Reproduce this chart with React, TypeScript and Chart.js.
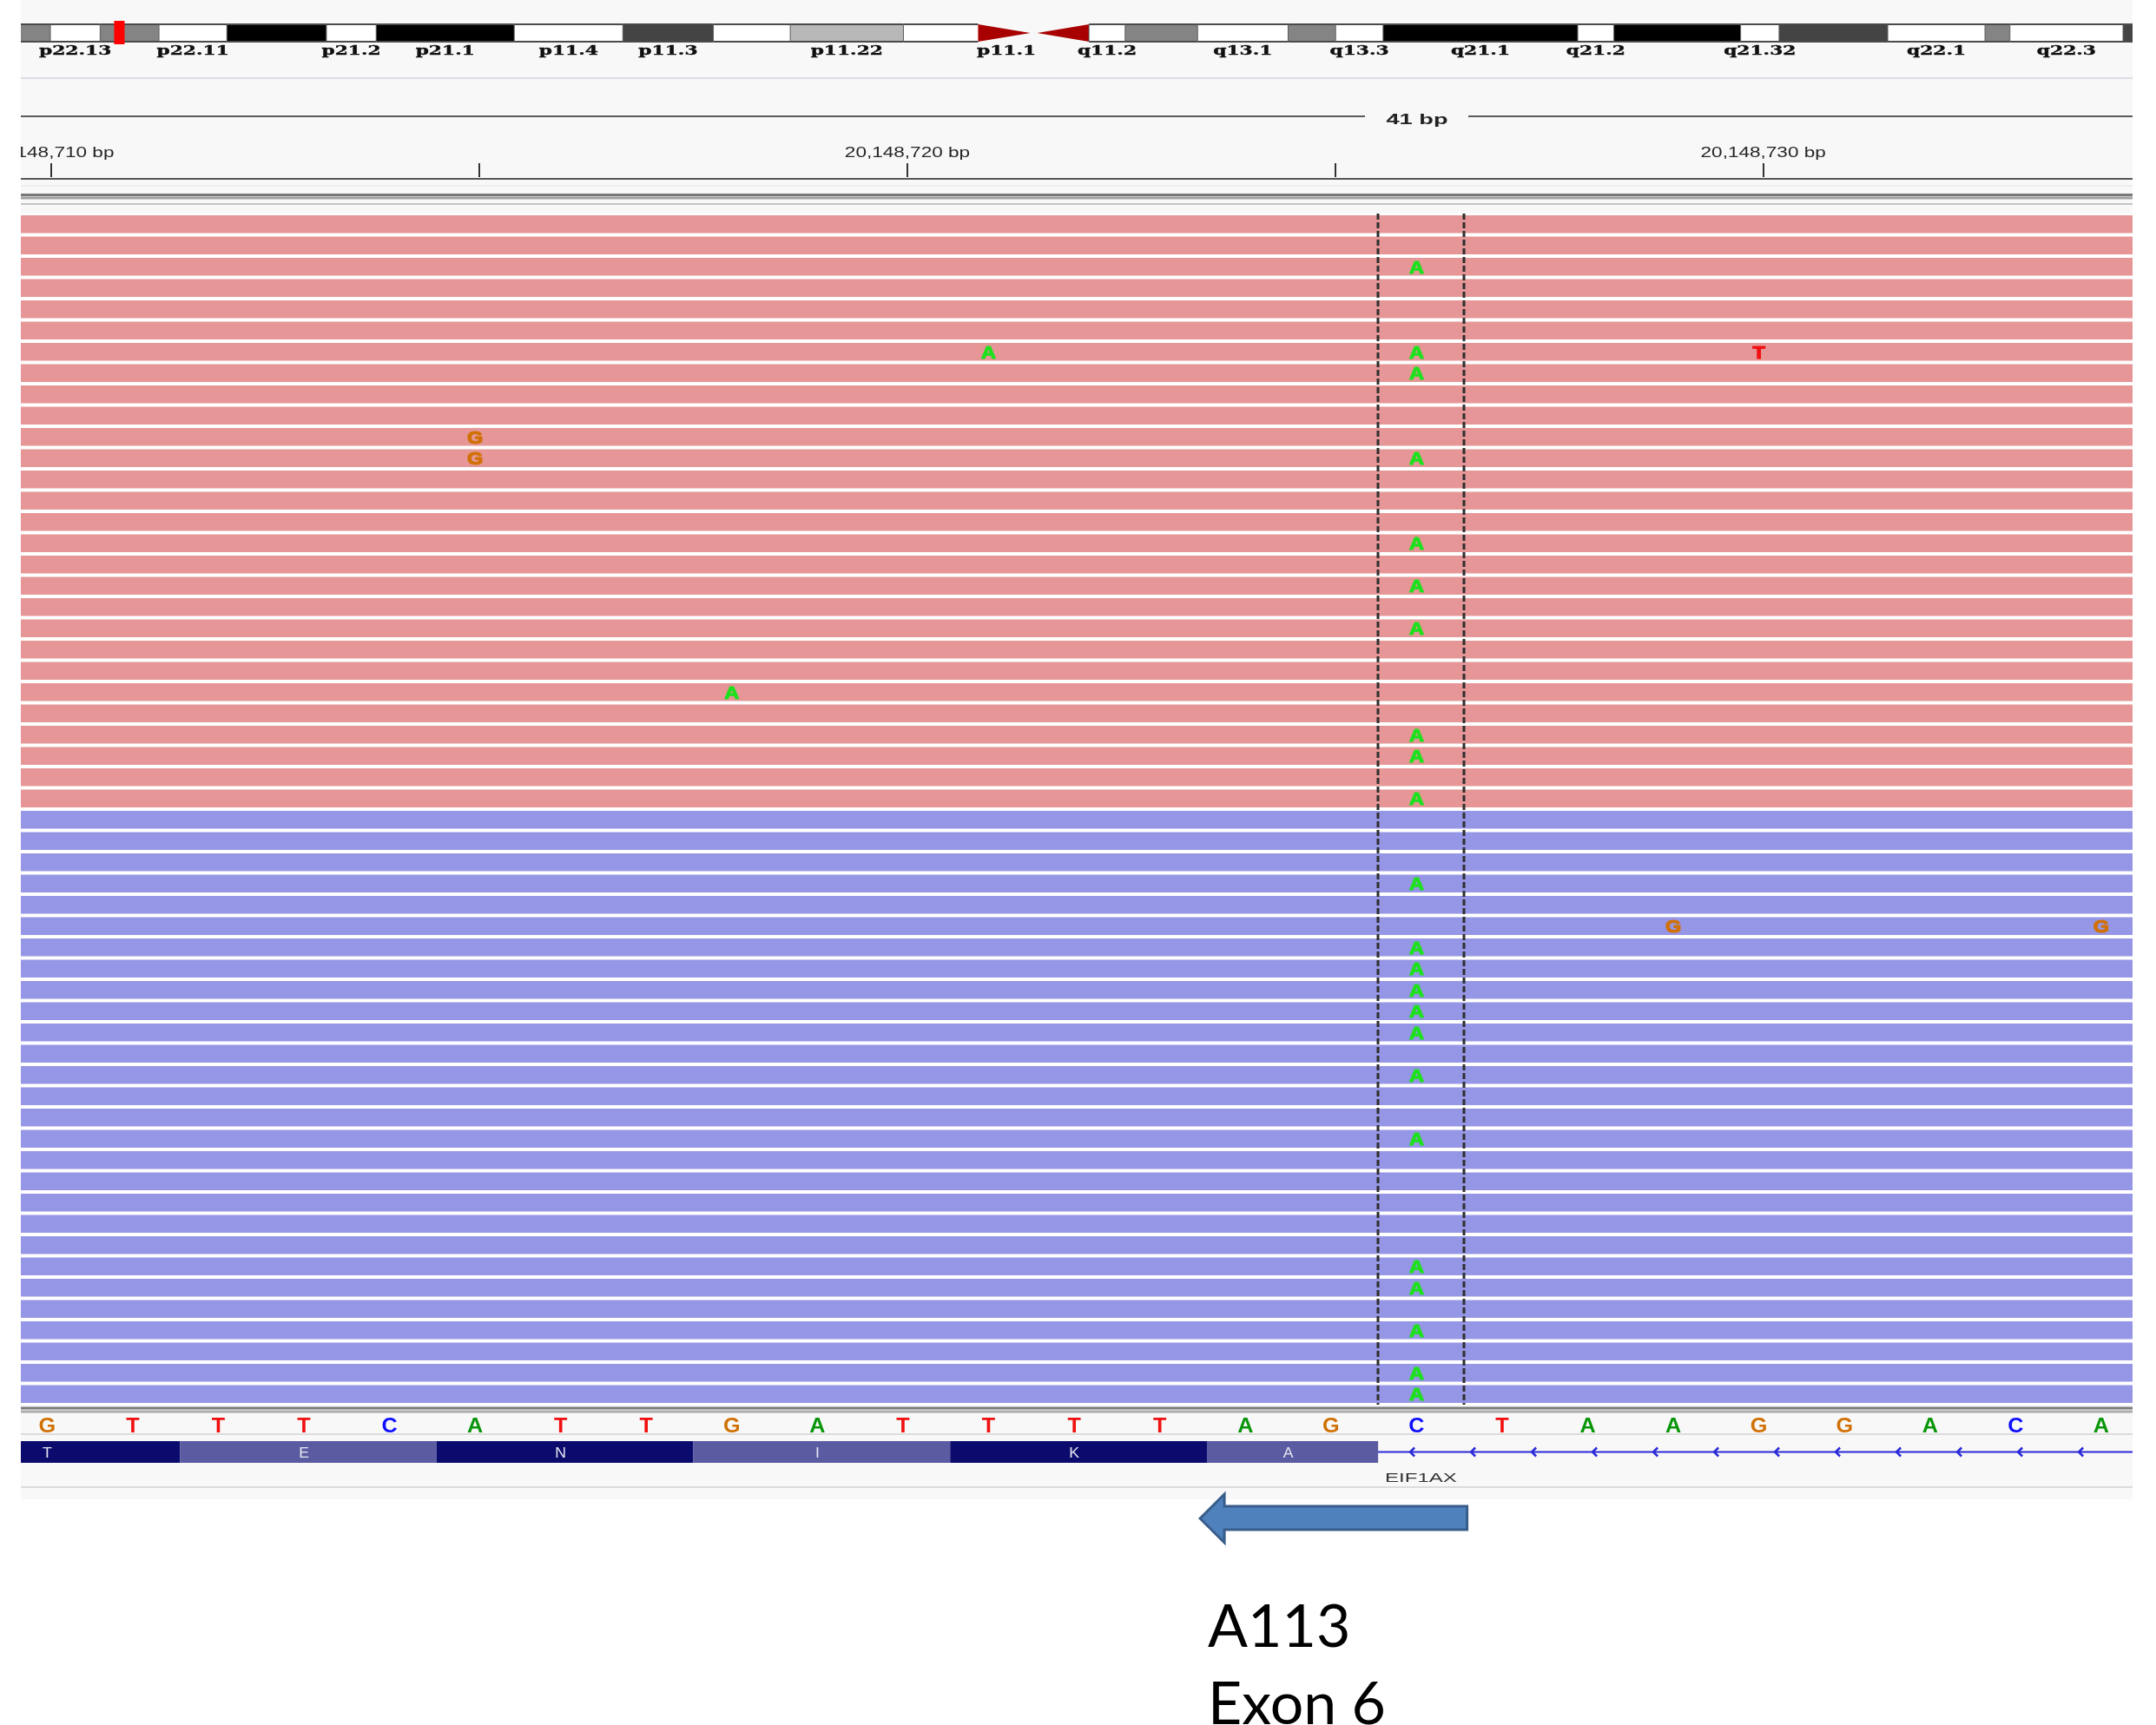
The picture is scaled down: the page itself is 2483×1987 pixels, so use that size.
import { useEffect, useRef } from "react";
import { Chart, registerables } from "chart.js";

Chart.register(...registerables);

// ---------------- data ----------------
const VIEW_START = 20148709.642;
const VIEW_END = 20148734.315;
const SEQ_START = 20148710;
const REF_SEQUENCE = ["G", "T", "T", "T", "C", "A", "T", "T", "G", "A", "T", "T", "T", "T", "A", "G", "C", "T", "A", "A", "G", "G", "A", "C", "A"];

const FORWARD_READ_COUNT = 28;
const REVERSE_READ_COUNT = 28;
const READ_START = 20148600;
const READ_END = 20148800;

const MISMATCH_ROW = [2, 6, 6, 6, 7, 10, 11, 11, 15, 17, 19, 22, 24, 25, 27, 31, 33, 33, 34, 35, 36, 37, 38, 40, 43, 49, 50, 52, 54, 55];
const MISMATCH_POS = [
  20148726, 20148721, 20148726, 20148730, 20148726, 20148715, 20148715, 20148726, 20148726, 20148726,
  20148726, 20148718, 20148726, 20148726, 20148726, 20148726, 20148729, 20148734, 20148726, 20148726,
  20148726, 20148726, 20148726, 20148726, 20148726, 20148726, 20148726, 20148726, 20148726, 20148726,
];
const MISMATCH_BASE = ["A", "A", "A", "T", "A", "G", "G", "A", "A", "A", "A", "A", "A", "A", "A", "A", "G", "G", "A", "A", "A", "A", "A", "A", "A", "A", "A", "A", "A", "A"];

const HIGHLIGHT_POS = 20148726;

const RULER_TICKS = [20148710, 20148715, 20148720, 20148725, 20148730];
const RULER_LABEL_POS = [20148710, 20148720, 20148730];
const RULER_LABELS = ["20,148,710 bp", "20,148,720 bp", "20,148,730 bp"];
const SPAN_LABEL = "41 bp";

const GENE_NAME = "EIF1AX";
const AA_LETTERS = ["T", "E", "N", "I", "K", "A"];
const AA_START = [20148709, 20148712, 20148715, 20148718, 20148721, 20148724];
const AA_END = [20148711, 20148714, 20148717, 20148720, 20148723, 20148725];
const EXON_END = 20148725;
const GENE_LABEL_POS = 20148726;

const ARROW_FROM = 20148726.54;
const ARROW_TO = 20148723.42;
const NOTE_LINES = ["A113", "Exon 6"];

// chromosome X ideogram (hg19, Mb)
const CHR_VIEW_START = 15.795;
const CHR_VIEW_END = 109.12;
const CURRENT_LOCUS_MB = 20.1487;
const BAND_NAMES = ["p22.33", "p22.32", "p22.31", "p22.2", "p22.13", "p22.12", "p22.11", "p21.3", "p21.2", "p21.1", "p11.4", "p11.3", "p11.23", "p11.22", "p11.21", "p11.1", "q11.1", "q11.2", "q12", "q13.1", "q13.2", "q13.3", "q21.1", "q21.2", "q21.31", "q21.32", "q21.33", "q22.1", "q22.2", "q22.3", "q23", "q24"];
const BAND_START = [0, 4.3, 6.0, 9.5, 17.1, 19.3, 21.9, 24.9, 29.3, 31.5, 37.6, 42.4, 46.4, 49.8, 54.8, 58.1, 60.6, 63.0, 64.6, 67.8, 71.8, 73.9, 76.0, 84.6, 86.2, 91.8, 93.5, 98.3, 102.6, 103.7, 108.7, 116.5];
const BAND_END = [4.3, 6.0, 9.5, 17.1, 19.3, 21.9, 24.9, 29.3, 31.5, 37.6, 42.4, 46.4, 49.8, 54.8, 58.1, 60.6, 63.0, 64.6, 67.8, 71.8, 73.9, 76.0, 84.6, 86.2, 91.8, 93.5, 98.3, 102.6, 103.7, 108.7, 116.5, 120.9];
const BAND_STAIN = ["gneg", "gpos50", "gneg", "gpos50", "gneg", "gpos50", "gneg", "gpos100", "gneg", "gpos100", "gneg", "gpos75", "gneg", "gpos25", "gneg", "acen", "acen", "gneg", "gpos50", "gneg", "gpos50", "gneg", "gpos100", "gneg", "gpos100", "gneg", "gpos75", "gneg", "gpos50", "gneg", "gpos75", "gpos100"];
const LABELED_BANDS = ["p22.13", "p22.11", "p21.2", "p21.1", "p11.4", "p11.3", "p11.22", "p11.1", "q11.2", "q13.1", "q13.3", "q21.1", "q21.2", "q21.32", "q22.1", "q22.3"];

// ---------------- styles ----------------
const W = 2483;
const H = 1987;
const PANEL_L = 24;
const PANEL_R = 2456;
const PANEL_BOTTOM = 1727;
const LETTER_SHIFT = -5;
const STAIN_COLOR: Record<string, string> = {
  gneg: "#ffffff",
  gpos25: "#b8b8b8",
  gpos50: "#848484",
  gpos75: "#444444",
  gpos100: "#000000",
};
const READ_BASE_COLOR: Record<string, string> = { A: "#1fe01f", C: "#1010ff", G: "#d17105", T: "#f01010" };
const SEQ_BASE_COLOR: Record<string, string> = { A: "#0a960a", C: "#1010ff", G: "#d17105", T: "#f01010" };

function stretchText(
  ctx: CanvasRenderingContext2D,
  text: string,
  x: number,
  y: number,
  font: string,
  color: string,
  sx: number,
  align: CanvasTextAlign = "center",
  strokeW = 0
) {
  ctx.save();
  ctx.font = font;
  ctx.fillStyle = color;
  ctx.textAlign = align;
  ctx.textBaseline = "alphabetic";
  ctx.translate(x, y);
  ctx.scale(sx, 1);
  ctx.fillText(text, 0, 0);
  if (strokeW > 0) {
    ctx.strokeStyle = color;
    ctx.lineWidth = strokeW;
    ctx.lineJoin = "round";
    ctx.strokeText(text, 0, 0);
  }
  ctx.restore();
}

function hline(ctx: CanvasRenderingContext2D, y: number, x0: number, x1: number, color: string, w: number) {
  ctx.save();
  ctx.fillStyle = color;
  ctx.fillRect(x0, y - w / 2, x1 - x0, w);
  ctx.restore();
}

const igvPlugin = {
  id: "igvTracks",
  beforeDraw(chart: any) {
    const ctx: CanvasRenderingContext2D = chart.ctx;
    const xs = chart.scales.x;
    const chr = chart.scales.chr;
    const area = chart.chartArea;
    ctx.save();
    ctx.fillStyle = "#ffffff";
    ctx.fillRect(0, 0, W, H);
    ctx.fillStyle = "#f8f8f8";
    ctx.fillRect(PANEL_L, 0, PANEL_R - PANEL_L, PANEL_BOTTOM);

    // ---- ideogram ----
    ctx.save();
    ctx.beginPath();
    ctx.rect(PANEL_L, 0, PANEL_R - PANEL_L, 80);
    ctx.clip();
    const iy0 = 28;
    const iy1 = 48;
    BAND_NAMES.forEach((name, i) => {
      const x0 = chr.getPixelForValue(BAND_START[i]);
      const x1 = chr.getPixelForValue(BAND_END[i]);
      if (BAND_STAIN[i] === "acen") {
        ctx.fillStyle = "#a80000";
        ctx.beginPath();
        if (name.startsWith("p")) {
          ctx.moveTo(x0, iy0);
          ctx.lineTo(x1 - 5, (iy0 + iy1) / 2);
          ctx.lineTo(x0, iy1);
        } else {
          ctx.moveTo(x1, iy0);
          ctx.lineTo(x0 + 3, (iy0 + iy1) / 2);
          ctx.lineTo(x1, iy1);
        }
        ctx.closePath();
        ctx.fill();
        return;
      }
      ctx.fillStyle = STAIN_COLOR[BAND_STAIN[i]];
      ctx.fillRect(x0, iy0, x1 - x0, iy1 - iy0);
      ctx.strokeStyle = "#5a5a5a";
      ctx.lineWidth = 1;
      ctx.beginPath();
      ctx.moveTo(x0, iy0);
      ctx.lineTo(x0, iy1);
      ctx.stroke();
      ctx.fillStyle = "#4a4a4a";
      ctx.fillRect(x0, iy0 - 1, x1 - x0, 2);
      ctx.fillRect(x0, iy1 - 1, x1 - x0, 2);
    });
    // current locus marker
    const mx = chr.getPixelForValue(CURRENT_LOCUS_MB);
    ctx.fillStyle = "#ff0000";
    ctx.fillRect(mx - 6, 24, 12, 27);
    // band labels
    BAND_NAMES.forEach((name, i) => {
      if (!LABELED_BANDS.includes(name)) return;
      const cx = chr.getPixelForValue((BAND_START[i] + BAND_END[i]) / 2);
      stretchText(ctx, name, cx, 63, 'bold 15px "DejaVu Serif"', "#101010", 1.45, "center", 0.4);
    });
    ctx.restore();

    // ---- separators and span line ----
    hline(ctx, 90, PANEL_L, PANEL_R, "#dcdce4", 2);
    hline(ctx, 134, PANEL_L, 1572, "#5a5a5a", 2);
    hline(ctx, 134, 1691, PANEL_R, "#5a5a5a", 2);
    stretchText(ctx, SPAN_LABEL, 1632, 143, 'bold 17px "Liberation Sans"', "#222222", 1.6);

    // ---- ruler ----
    ctx.save();
    ctx.beginPath();
    ctx.rect(PANEL_L, 150, PANEL_R - PANEL_L, 70);
    ctx.clip();
    ctx.fillStyle = "#333333";
    RULER_TICKS.forEach((p) => {
      const px = Math.round(xs.getPixelForValue(p));
      ctx.fillRect(px - 1, 188, 2, 16);
    });
    RULER_LABEL_POS.forEach((p, i) => {
      stretchText(ctx, RULER_LABELS[i], xs.getPixelForValue(p), 181, '16px "Liberation Sans"', "#262626", 1.41);
    });
    ctx.restore();
    hline(ctx, 206, PANEL_L, PANEL_R, "#555555", 2);
    hline(ctx, 214, PANEL_L, PANEL_R, "#e2e2e2", 1);

    // alignment track header lines
    hline(ctx, 224.5, PANEL_L, PANEL_R, "#787878", 3);
    hline(ctx, 228, PANEL_L, PANEL_R, "#a0a0a0", 3);
    hline(ctx, 235, PANEL_L, PANEL_R, "#c4c4c4", 2);

    // reads background (row gaps)
    ctx.fillStyle = "#ffffff";
    ctx.fillRect(area.left, area.top, area.right - area.left, area.bottom - area.top);

    // lower separators
    hline(ctx, 1622, PANEL_L, PANEL_R, "#7a7a7a", 3);
    hline(ctx, 1626, PANEL_L, PANEL_R, "#acacac", 3);
    hline(ctx, 1652, PANEL_L, PANEL_R, "#dcdcdc", 2);
    hline(ctx, 1713, PANEL_L, PANEL_R, "#dcdcdc", 2);
    ctx.restore();
  },
  afterDatasetsDraw(chart: any) {
    const ctx: CanvasRenderingContext2D = chart.ctx;
    const xs = chart.scales.x;
    const ys = chart.scales.y;
    const area = chart.chartArea;

    // mismatches
    ctx.save();
    ctx.beginPath();
    ctx.rect(area.left, area.top, area.right - area.left, area.bottom - area.top);
    ctx.clip();
    MISMATCH_ROW.forEach((row, i) => {
      const px = xs.getPixelForValue(MISMATCH_POS[i]) + LETTER_SHIFT;
      const py = ys.getPixelForValue(row + 0.5);
      stretchText(ctx, MISMATCH_BASE[i], px, py + 7.5, 'bold 21px "Liberation Sans"', READ_BASE_COLOR[MISMATCH_BASE[i]], 1.12, "center", 1.2);
    });
    // dashed highlight around the variant column
    ctx.strokeStyle = "#2e2e2e";
    ctx.lineWidth = 3;
    ctx.setLineDash([7, 3]);
    [HIGHLIGHT_POS - 0.5, HIGHLIGHT_POS + 0.5].forEach((v) => {
      const px = Math.round(xs.getPixelForValue(v));
      ctx.beginPath();
      ctx.moveTo(px, area.top);
      ctx.lineTo(px, area.bottom);
      ctx.stroke();
    });
    ctx.restore();
  },
  afterDraw(chart: any) {
    const ctx: CanvasRenderingContext2D = chart.ctx;
    const xs = chart.scales.x;
    ctx.save();
    ctx.beginPath();
    ctx.rect(PANEL_L, 1619, PANEL_R - PANEL_L, 110);
    ctx.clip();

    // reference sequence
    REF_SEQUENCE.forEach((b, i) => {
      const px = xs.getPixelForValue(SEQ_START + i) + LETTER_SHIFT;
      stretchText(ctx, b, px, 1650, 'bold 24px "Liberation Sans"', SEQ_BASE_COLOR[b], 1.05);
    });

    // gene: codon blocks
    const gy0 = 1660;
    const gy1 = 1685;
    AA_LETTERS.forEach((aa, i) => {
      const x0 = xs.getPixelForValue(AA_START[i] - 0.5);
      const x1 = xs.getPixelForValue(AA_END[i] + 0.5);
      ctx.fillStyle = i % 2 === 0 ? "#0b0b6e" : "#5b5ba2";
      ctx.fillRect(x0, gy0, x1 - x0, gy1 - gy0);
      const cx = xs.getPixelForValue((AA_START[i] + AA_END[i]) / 2) + LETTER_SHIFT;
      stretchText(ctx, aa, cx, 1679, '16px "Liberation Sans"', "#e6e6f0", 1.1);
    });
    // intron line with strand chevrons
    const ex = xs.getPixelForValue(EXON_END + 0.5);
    const ly = (gy0 + gy1) / 2;
    ctx.fillStyle = "#2a2ad8";
    ctx.fillRect(ex, ly - 1, PANEL_R - ex, 2);
    ctx.strokeStyle = "#2a2ad8";
    ctx.lineWidth = 2.5;
    for (let cx = ex + 39; cx < PANEL_R; cx += 70) {
      ctx.beginPath();
      ctx.moveTo(cx + 3, ly - 5);
      ctx.lineTo(cx - 2, ly);
      ctx.lineTo(cx + 3, ly + 5);
      ctx.stroke();
    }
    stretchText(ctx, GENE_NAME, xs.getPixelForValue(GENE_LABEL_POS), 1707, '15px "Liberation Sans"', "#333333", 1.6);
    ctx.restore();

    // annotation arrow and text
    const ax0 = xs.getPixelForValue(ARROW_TO);
    const ax1 = xs.getPixelForValue(ARROW_FROM);
    const ay = 1749;
    ctx.save();
    ctx.beginPath();
    ctx.moveTo(ax0, ay);
    ctx.lineTo(ax0 + 28, ay - 28);
    ctx.lineTo(ax0 + 28, ay - 14);
    ctx.lineTo(ax1, ay - 14);
    ctx.lineTo(ax1, ay + 13);
    ctx.lineTo(ax0 + 28, ay + 13);
    ctx.lineTo(ax0 + 28, ay + 28);
    ctx.closePath();
    ctx.fillStyle = "#4f81bd";
    ctx.fill();
    ctx.strokeStyle = "#385d8a";
    ctx.lineWidth = 3;
    ctx.stroke();
    ctx.restore();
    NOTE_LINES.forEach((t, i) => {
      stretchText(ctx, t, ax0 + 9, 1897 + i * 89, '68px "Lato"', "#000000", 1.0, "left");
    });
  },
};

export default function App() {
  const ref = useRef<HTMLCanvasElement>(null);
  useEffect(() => {
    document.body.style.margin = "0";
    const forward = Array.from({ length: FORWARD_READ_COUNT }, (_, r) => ({ x: [READ_START, READ_END], y: r + 0.5 }));
    const reverse = Array.from({ length: REVERSE_READ_COUNT }, (_, r) => ({
      x: [READ_START, READ_END],
      y: FORWARD_READ_COUNT + r + 0.5,
    }));
    const chart = new Chart(ref.current as HTMLCanvasElement, {
      type: "bar",
      data: {
        datasets: [
          { label: "forward", data: forward as any, backgroundColor: "rgb(230,150,150)", borderWidth: 0 },
          { label: "reverse", data: reverse as any, backgroundColor: "rgb(150,150,230)", borderWidth: 0 },
        ],
      },
      options: {
        indexAxis: "y",
        responsive: false,
        animation: false,
        devicePixelRatio: 1,
        events: [],
        grouped: false,
        barPercentage: 0.84,
        categoryPercentage: 1,
        layout: { padding: { left: PANEL_L, right: W - PANEL_R, top: 246, bottom: H - 1618 } },
        plugins: { legend: { display: false }, tooltip: { enabled: false }, title: { display: false } },
        scales: {
          x: { type: "linear", min: VIEW_START, max: VIEW_END, display: false, offset: false },
          y: {
            type: "linear",
            min: 0,
            max: FORWARD_READ_COUNT + REVERSE_READ_COUNT,
            reverse: true,
            display: false,
            offset: false,
          },
          chr: { type: "linear", axis: "x", min: CHR_VIEW_START, max: CHR_VIEW_END, display: false },
        },
      } as any,
      plugins: [igvPlugin],
    });
    return () => chart.destroy();
  }, []);
  return <canvas ref={ref} width={W} height={H} style={{ display: "block", width: W, height: H }} />;
}
